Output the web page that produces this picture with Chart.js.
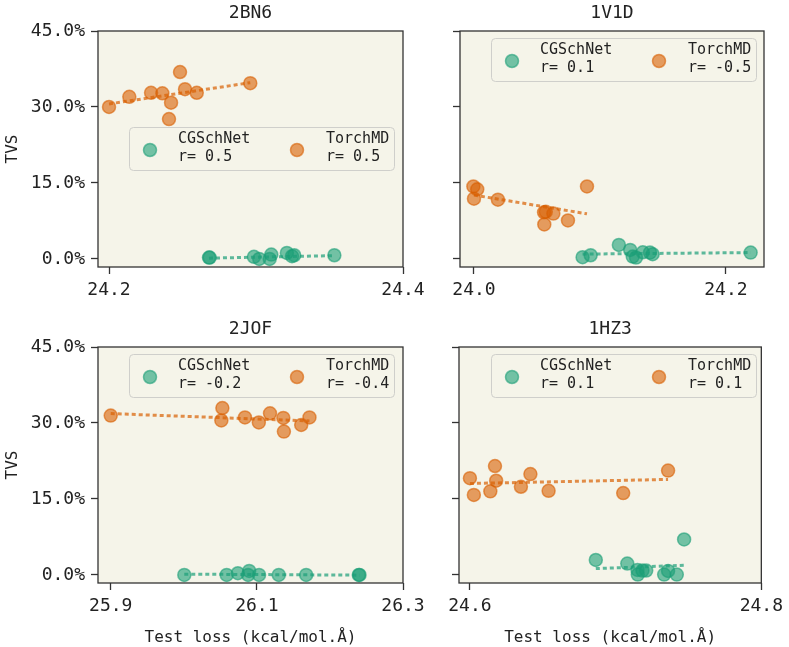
<!DOCTYPE html>
<html>
<head>
<meta charset="utf-8">
<script src="https://cdn.jsdelivr.net/npm/chart.js@4.4.0/dist/chart.umd.min.js"></script>
<style>
  body { margin: 0; background: #fff; }
  #wrap { position: relative; width: 789px; height: 647px; }
  #wrap canvas { position: absolute; left: 0; top: 0; }
</style>
</head>
<body>
<div id="wrap">
  <canvas id="c0" width="789" height="647"></canvas>
  <canvas id="c1" width="789" height="647"></canvas>
  <canvas id="c2" width="789" height="647"></canvas>
  <canvas id="c3" width="789" height="647"></canvas>
</div>
<script>
// --- data ---
const titles = ['2BN6', '1V1D', '2JOF', '1HZ3'];
const modelNames = ['CGSchNet', 'TorchMD'];
const rCG = [0.5, 0.1, -0.2, 0.1];
const rTorch = [0.5, -0.5, -0.4, 0.1];
const yTicks = [0, 15, 30, 45];
const xTicks = [[24.2, 24.4], [24.0, 24.2], [25.9, 26.1, 26.3], [24.6, 24.8]];
const xMin = [24.1925, 23.9889, 25.8826, 24.5925];
const xMax = [24.4, 24.2302, 26.3, 24.8];
const yMin = -1.6, yMax = 45;

// 2BN6
const torchX_2BN6 = [24.200, 24.2138, 24.2286, 24.2363, 24.2422, 24.2408, 24.2483, 24.2517, 24.2597, 24.2961];
const torchY_2BN6 = [30.0, 32.0, 32.8, 32.7, 30.85, 27.6, 36.9, 33.5, 32.8, 34.7];
const cgX_2BN6 = [24.268, 24.2685, 24.2986, 24.3022, 24.3093, 24.3104, 24.321, 24.3245, 24.326, 24.3533];
const cgY_2BN6 = [0.26, 0.26, 0.4, 0.0, 0.0, 0.85, 1.18, 0.53, 0.72, 0.72];
// 1V1D
const torchX_1V1D = [23.9995, 24.0026, 24.0, 24.019, 24.0556, 24.057, 24.063, 24.0558, 24.0746, 24.0897];
const torchY_1V1D = [14.3, 13.75, 11.9, 11.7, 9.2, 9.3, 8.95, 6.8, 7.6, 14.3];
const cgX_1V1D = [24.0862, 24.0926, 24.115, 24.124, 24.126, 24.1286, 24.134, 24.1397, 24.1418, 24.2196];
const cgY_1V1D = [0.33, 0.72, 2.76, 1.78, 0.46, 0.26, 1.31, 1.25, 0.92, 1.25];
// 2JOF
const torchX_2JOF = [25.9, 26.0528, 26.0514, 26.0837, 26.1027, 26.118, 26.1362, 26.137, 26.1607, 26.172];
const torchY_2JOF = [31.45, 32.95, 30.5, 31.1, 30.1, 31.9, 31.0, 28.3, 29.6, 31.1];
const cgX_2JOF = [26.0007, 26.0587, 26.074, 26.0895, 26.088, 26.103, 26.13, 26.1675, 26.2405, 26.2395];
const cgY_2JOF = [0.0, 0.0, 0.33, 0.79, 0.0, 0.0, 0.0, 0.0, 0.0, 0.0];
// 1HZ3
const torchX_1HZ3 = [24.6, 24.6027, 24.614, 24.6172, 24.618, 24.635, 24.6415, 24.654, 24.7052, 24.736];
const torchY_1HZ3 = [19.1, 15.8, 16.5, 21.5, 18.6, 17.4, 19.9, 16.6, 16.15, 20.6];
const cgX_1HZ3 = [24.6864, 24.708, 24.715, 24.7152, 24.7184, 24.721, 24.7333, 24.736, 24.742, 24.747];
const cgY_1HZ3 = [2.95, 2.23, 0.98, 0.06, 0.85, 0.85, 0.06, 0.79, 0.06, 7.0];

// fitted lines, end points [x, y]
const torchFit = [[[24.2, 30.6], [24.2961, 34.8]], [[24.0, 12.6], [24.0897, 8.9]],
                  [[25.9, 31.85], [26.172, 30.4]], [[24.6, 18.05], [24.736, 18.85]]];
const cgFit = [[[24.268, 0.15], [24.3533, 0.65]], [[24.0862, 0.95], [24.2196, 1.25]],
               [[26.0007, 0.15], [26.2405, -0.05]], [[24.6864, 1.25], [24.747, 1.9]]];

const torchX = [torchX_2BN6, torchX_1V1D, torchX_2JOF, torchX_1HZ3];
const torchY = [torchY_2BN6, torchY_1V1D, torchY_2JOF, torchY_1HZ3];
const cgX = [cgX_2BN6, cgX_1V1D, cgX_2JOF, cgX_1HZ3];
const cgY = [cgY_2BN6, cgY_1V1D, cgY_2JOF, cgY_1HZ3];

// --- look ---
const FONT = '"DejaVu Sans Mono", monospace';
const GREEN = '27,158,119', ORANGE = '217,95,2';
const AX_BG = '#f5f4e9';
const INK = '#333333';
// plot areas in page pixels
const areas = [
  { l: 98, t: 31, r: 403, b: 267 },
  { l: 460, t: 31, r: 764, b: 267 },
  { l: 98, t: 347, r: 403, b: 583 },
  { l: 459, t: 347, r: 764, b: 583 }
];
// legend box: left/top in page pixels
const legendPos = [
  { x: 129, y: 127 }, { x: 491, y: 38 }, { x: 129, y: 354 }, { x: 491, y: 354 }
];

const zip = (xs, ys) => xs.map((x, i) => ({ x: x, y: ys[i] }));
const pts = (arr) => arr.map(p => ({ x: p[0], y: p[1] }));

function roundRect(ctx, x, y, w, h, r) {
  ctx.beginPath();
  ctx.moveTo(x + r, y);
  ctx.lineTo(x + w - r, y);
  ctx.arcTo(x + w, y, x + w, y + r, r);
  ctx.lineTo(x + w, y + h - r);
  ctx.arcTo(x + w, y + h, x + w - r, y + h, r);
  ctx.lineTo(x + r, y + h);
  ctx.arcTo(x, y + h, x, y + h - r, r);
  ctx.lineTo(x, y + r);
  ctx.arcTo(x, y, x + r, y, r);
  ctx.closePath();
}

const decor = {
  id: 'decor',
  beforeDraw(chart) {
    const a = chart.chartArea, ctx = chart.ctx;
    ctx.save();
    ctx.fillStyle = AX_BG;
    ctx.fillRect(a.left, a.top, a.right - a.left, a.bottom - a.top);
    ctx.restore();
  },
  afterDraw(chart) {
    const a = chart.chartArea, ctx = chart.ctx;
    const i = chart.options.plugins.decor.idx;
    ctx.save();
    // frame
    ctx.strokeStyle = INK;
    ctx.lineWidth = 1.3;
    ctx.strokeRect(a.left, a.top, a.right - a.left, a.bottom - a.top);
    // title
    ctx.fillStyle = '#222';
    ctx.font = '18px ' + FONT;
    ctx.textAlign = 'center';
    ctx.textBaseline = 'middle';
    ctx.fillText(titles[i], (a.left + a.right) / 2, a.top - 18);
    // legend
    const lp = legendPos[i];
    const w = 265, h = 43;
    roundRect(ctx, lp.x + 0.5, lp.y + 0.5, w, h, 4);
    ctx.fillStyle = 'rgba(245,244,233,0.8)';
    ctx.fill();
    ctx.strokeStyle = '#cfcfcb';
    ctx.lineWidth = 1;
    ctx.stroke();
    const entries = [
      { c: GREEN, name: modelNames[0], r: rCG[i], mx: 21, tx: 49 },
      { c: ORANGE, name: modelNames[1], r: rTorch[i], mx: 168, tx: 197 }
    ];
    ctx.font = '15px ' + FONT;
    ctx.textAlign = 'left';
    entries.forEach(e => {
      ctx.beginPath();
      ctx.arc(lp.x + e.mx, lp.y + 23, 6.5, 0, Math.PI * 2);
      ctx.fillStyle = 'rgba(' + e.c + ',0.6)';
      ctx.fill();
      ctx.strokeStyle = 'rgba(' + e.c + ',0.6)';
      ctx.lineWidth = 1.5;
      ctx.stroke();
      ctx.fillStyle = '#222';
      ctx.fillText(e.name, lp.x + e.tx, lp.y + 12);
      ctx.fillText('r= ' + e.r, lp.x + e.tx, lp.y + 30);
    });
    ctx.restore();
  }
};

function makeChart(i) {
  const a = areas[i];
  const left = (i % 2 === 0);
  const bottom = (i >= 2);
  const yW = left ? 98 : 40;
  const xH = bottom ? 64 : 50;
  const pointStyle = (c) => ({
    backgroundColor: 'rgba(' + c + ',0.6)',
    borderColor: 'rgba(' + c + ',0.6)',
    borderWidth: 1.5,
    pointRadius: 6.5,
    showLine: false,
    order: 2
  });
  const lineStyle = (c) => ({
    borderColor: 'rgba(' + c + ',0.7)',
    borderWidth: 3,
    borderDash: [4, 3],
    pointRadius: 0,
    showLine: true,
    fill: false,
    order: 1
  });
  new Chart(document.getElementById('c' + i), {
    type: 'scatter',
    data: {
      datasets: [
        Object.assign({ label: modelNames[0], data: zip(cgX[i], cgY[i]) }, pointStyle(GREEN)),
        Object.assign({ label: modelNames[1], data: zip(torchX[i], torchY[i]) }, pointStyle(ORANGE)),
        Object.assign({ label: 'fit cg', data: pts(cgFit[i]) }, lineStyle(GREEN)),
        Object.assign({ label: 'fit torch', data: pts(torchFit[i]) }, lineStyle(ORANGE))
      ]
    },
    options: {
      responsive: false,
      animation: false,
      events: [],
      layout: {
        padding: { left: a.l - yW, top: a.t, right: 789 - a.r, bottom: 647 - a.b - xH }
      },
      plugins: {
        legend: { display: false },
        tooltip: { enabled: false },
        decor: { idx: i }
      },
      scales: {
        x: {
          type: 'linear',
          min: xMin[i], max: xMax[i],
          afterBuildTicks: s => { s.ticks = xTicks[i].map(v => ({ value: v })); },
          afterFit: s => { s.height = xH; },
          grid: { drawOnChartArea: false, drawTicks: true, tickLength: 7, tickWidth: 1.3, tickColor: INK },
          border: { display: false },
          ticks: { color: '#222', padding: 6, maxRotation: 0, font: { family: FONT, size: 18 },
                   callback: v => v.toFixed(1) },
          title: { display: bottom, text: 'Test loss (kcal/mol.Å)', color: '#222',
                   font: { family: FONT, size: 16 }, padding: { top: 0, bottom: 0 } }
        },
        y: {
          type: 'linear',
          min: yMin, max: yMax,
          afterBuildTicks: s => { s.ticks = yTicks.map(v => ({ value: v })); },
          afterFit: s => { s.width = yW; },
          grid: { drawOnChartArea: false, drawTicks: true, tickLength: 7, tickWidth: 1.3, tickColor: INK },
          border: { display: false },
          ticks: { display: left, color: '#222', padding: 6, font: { family: FONT, size: 18 },
                   callback: v => v.toFixed(1) + '%' },
          title: { display: left, text: 'TVS', color: '#222',
                   font: { family: FONT, size: 16 }, padding: { top: 3, bottom: 0 } }
        }
      }
    },
    plugins: [decor]
  });
}

[0, 1, 2, 3].forEach(makeChart);
</script>
</body>
</html>
